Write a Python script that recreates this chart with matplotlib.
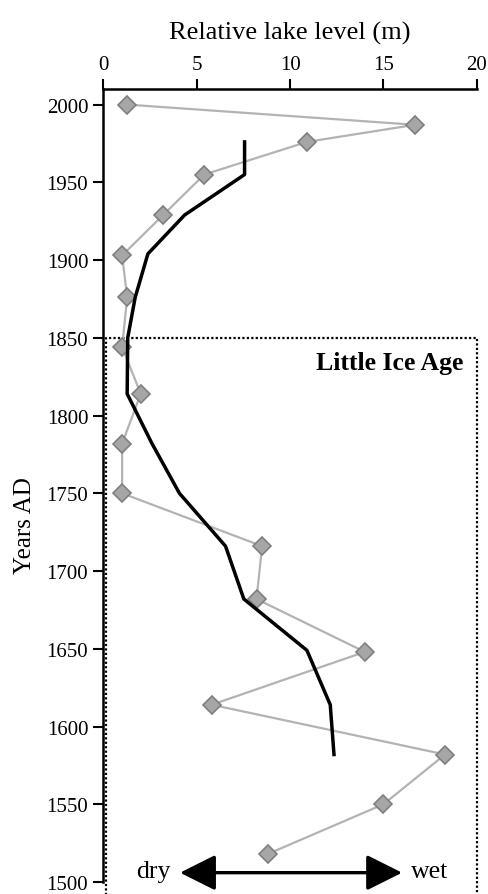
import matplotlib.pyplot as plt

plt.rcParams['font.family'] = ['Liberation Serif', 'DejaVu Serif']

# Reconstructed lake level (gray diamonds)
years_pts = [2000, 1987, 1976, 1955, 1929, 1903, 1876, 1844, 1814, 1782, 1750,
             1716, 1682, 1648, 1614, 1582, 1550, 1518]
level_pts = [1.27, 16.7, 10.9, 5.4, 3.2, 1.0, 1.27, 1.0, 2.0, 1.0, 1.0,
             8.5, 8.2, 14.0, 5.8, 18.3, 15.0, 8.8]

# Smoothed curve (black)
years_smooth = [1976, 1955, 1929, 1904, 1876, 1850, 1814, 1782, 1750,
                1716, 1682, 1649, 1614, 1582]
level_smooth = [7.56, 7.56, 4.35, 2.38, 1.7, 1.3, 1.27, 2.6, 4.07,
                6.54, 7.52, 10.9, 12.15, 12.35]

x_ticks = [0, 5, 10, 15, 20]
y_ticks = [1500, 1550, 1600, 1650, 1700, 1750, 1800, 1850, 1900, 1950, 2000]

fig = plt.figure(figsize=(4.88, 8.95), dpi=100)
ax = fig.add_axes([0.212, 0.0134, 0.765, 0.886])

ax.plot(level_pts, years_pts, '-', color='#b3b3b3', lw=1.6, zorder=2)
ax.plot(level_pts, years_pts, 'D', ms=9, mfc='#a6a6a6', mec='#7f7f7f',
        mew=1.2, zorder=3, clip_on=False)
ax.plot(level_smooth, years_smooth, '-', color='black', lw=2.5, zorder=4)

# Little Ice Age box
ax.plot([0.15, 0.15, 20, 20], [1480, 1850, 1850, 1480], color='black',
        lw=1.6, linestyle=(0, (1, 1)), clip_on=False, zorder=1)
ax.text(19.3, 1834, 'Little Ice Age', fontsize=18.5, fontweight='bold',
        ha='right', va='center')

# dry / wet arrow
ax.annotate('', xy=(4.1, 1506), xytext=(16.0, 1506),
            arrowprops=dict(arrowstyle='<|-|>,head_length=1.1,head_width=0.55',
                            color='black', lw=2.4, shrinkA=0, shrinkB=0,
                            mutation_scale=20))
ax.text(3.6, 1507, 'dry', fontsize=18.5, ha='right', va='center')
ax.text(16.5, 1507, 'wet', fontsize=18.5, ha='left', va='center')

ax.set_xlim(0, 20)
ax.set_ylim(1500, 2010)
ax.xaxis.tick_top()
ax.xaxis.set_label_position('top')
ax.set_xticks(x_ticks)
ax.set_yticks(y_ticks)
ax.tick_params(direction='out', length=7, width=1.5, labelsize=15, pad=4)
for side in ['right', 'bottom']:
    ax.spines[side].set_visible(False)
for side in ['left', 'top']:
    ax.spines[side].set_linewidth(1.8)

ax.set_xlabel('Relative lake level (m)', fontsize=19, labelpad=12)
ax.set_ylabel('Years AD', fontsize=18)
ax.yaxis.set_label_coords(-0.18, 0.451)

fig.savefig('out.png', dpi=100)
